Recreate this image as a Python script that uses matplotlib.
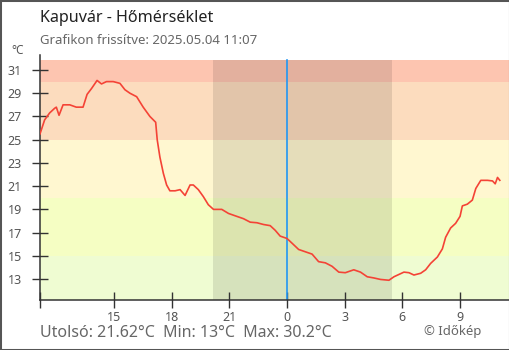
import matplotlib
matplotlib.use("Agg")
import matplotlib.pyplot as plt
from matplotlib.patches import Rectangle

plt.rcParams['font.family'] = ['Noto Sans', 'DejaVu Sans']

# hours counted from midnight of 2025.05.03 (24 = midnight, 35.07 = 11:07 next day)
hours = [11.14, 11.38, 11.64, 11.90, 11.99, 12.13, 12.34, 12.69, 13.03, 13.38, 13.59,
         13.82, 14.11, 14.34, 14.60, 14.95, 15.30, 15.56, 15.82, 16.17, 16.51, 16.86,
         17.16, 17.24, 17.38, 17.56, 17.73, 17.90, 18.17, 18.43, 18.69, 18.95, 19.12,
         19.38, 19.64, 19.90, 20.17, 20.60, 20.95, 21.38, 21.73, 22.08, 22.43, 22.77,
         23.12, 23.38, 23.64, 23.99, 24.25, 24.60, 24.95, 25.30, 25.64, 25.99, 26.34,
         26.69, 27.03, 27.47, 27.82, 28.17, 28.51, 28.86, 29.30, 29.56, 29.82, 30.08,
         30.34, 30.60, 30.95, 31.21, 31.47, 31.82, 32.08, 32.25, 32.51, 32.77, 33.00,
         33.12, 33.38, 33.64, 33.82, 34.08, 34.43, 34.69, 34.83, 34.95, 35.07]
temps = [25.5, 26.7, 27.3, 27.7, 27.8, 27.1, 28.0, 28.0, 27.8, 27.8, 28.9, 29.4, 30.1,
         29.8, 30.0, 30.0, 29.85, 29.3, 29.0, 28.7, 27.8, 27.0, 26.5, 25.0, 23.5, 22.1,
         21.1, 20.6, 20.6, 20.7, 20.2, 21.1, 21.1, 20.7, 20.1, 19.4, 19.0, 19.0, 18.65,
         18.4, 18.2, 17.9, 17.85, 17.7, 17.6, 17.2, 16.7, 16.5, 16.1, 15.55, 15.35, 15.15,
         14.5, 14.4, 14.1, 13.6, 13.55, 13.8, 13.6, 13.2, 13.1, 12.97, 12.9, 13.2, 13.4,
         13.6, 13.55, 13.35, 13.5, 13.8, 14.35, 14.9, 15.6, 16.6, 17.4, 17.8, 18.4, 19.3,
         19.45, 19.8, 20.8, 21.5, 21.5, 21.45, 21.2, 21.75, 21.5]

band_edges = [11.2, 15, 20, 25, 30, 31.86]
band_colors = ['#effcd2', '#f5fec3', '#fff7d0', '#fcdcbe', '#fdc5b0']
night = (20.13, 29.44)
xticks = [15, 18, 21, 24, 27, 30, 33]
xlabels = ['15', '18', '21', '0', '3', '6', '9']
yticks = [13, 15, 17, 19, 21, 23, 25, 27, 29, 31]

y0, y1 = 11.2, 32.29
fig = plt.figure(figsize=(5.1, 3.5), dpi=100)
fig.patches.append(Rectangle((0, 0), 1, 1, transform=fig.transFigure, fill=False,
                             edgecolor='#555555', linewidth=2.2))
ax = fig.add_axes([40 / 510, 50 / 350, 470 / 510, 245 / 350])

x0, x1 = 11.14, 35.6
for lo, hi, c in zip(band_edges[:-1], band_edges[1:], band_colors):
    ax.fill_between([x0, x1], lo, hi, color=c, linewidth=0, zorder=0)
ax.fill_between(night, band_edges[0], band_edges[-1], color='black', alpha=0.1,
                linewidth=0, zorder=1)
ax.axvline(24, ymax=(band_edges[-1] - y0) / (y1 - y0), color='#2196f3',
           linewidth=1.2, zorder=2)
ax.plot(hours, temps, color='#f44336', linewidth=1.2, zorder=3)

ax.set_xlim(x0, x1)
ax.set_ylim(y0, y1)
ax.set_xticks([x0] + xticks)
ax.set_xticklabels([''] + xlabels)
ax.set_yticks(yticks)
for s in ['top', 'right']:
    ax.spines[s].set_visible(False)
for s in ['left', 'bottom']:
    ax.spines[s].set_color('#333333')
    ax.spines[s].set_linewidth(1.1)
ax.tick_params(axis='both', direction='inout', length=12, width=1, color='#333333',
               labelsize=9, labelcolor='#555555')
ax.tick_params(axis='y', pad=7)
ax.tick_params(axis='x', pad=2)

fig.text(40 / 510, 1 - 18 / 350, 'Kapuvár - Hőmérséklet', fontsize=11.6, color='#222222',
         va='center', ha='left')
fig.text(40 / 510, 1 - 40 / 350, 'Grafikon frissítve: 2025.05.04 11:07', fontsize=9.5,
         color='#666666', va='center', ha='left')
fig.text(18 / 510, 1 - 51 / 350, '°C', fontsize=8.5, color='#555555', va='center', ha='center')
fig.text(40 / 510, 1 - 333 / 350, 'Utolsó: 21.62°C  Min: 13°C  Max: 30.2°C', fontsize=11.5,
         color='#666666', va='center', ha='left')
fig.text(481 / 510, 1 - 331 / 350, '© Időkép', fontsize=9.5, color='#666666',
         va='center', ha='right')

fig.savefig('out.png', dpi=100)
